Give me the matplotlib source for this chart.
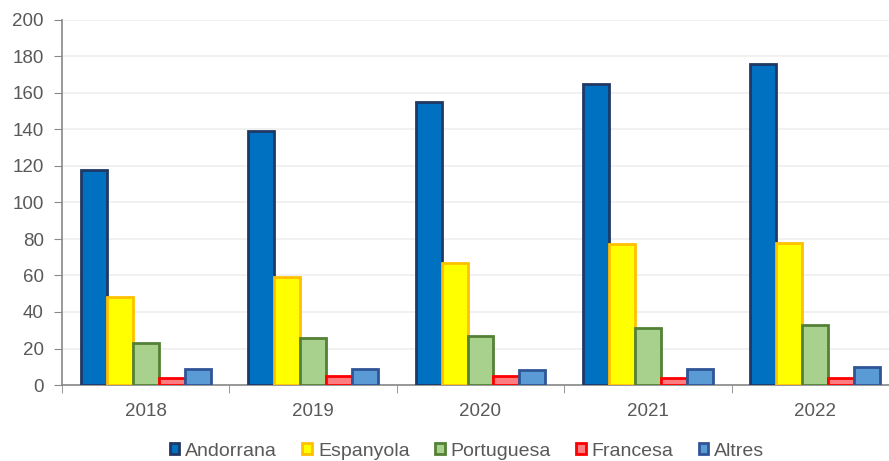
import numpy as np
import matplotlib.pyplot as plt
from matplotlib.patches import Patch

plt.rcParams['font.family'] = ['Liberation Sans', 'DejaVu Sans']

years = ['2018', '2019', '2020', '2021', '2022']
andorrana = [118, 139, 155, 165, 176]
espanyola = [48, 59, 67, 77, 78]
portuguesa = [23, 26, 27, 31, 33]
francesa = [4, 5, 5, 4, 4]
altres = [9, 9, 8, 9, 10]

series = [
    ('Andorrana', andorrana, '#0070C0', '#1F3864'),
    ('Espanyola', espanyola, '#FFFF00', '#FFC000'),
    ('Portuguesa', portuguesa, '#A9D18E', '#538135'),
    ('Francesa', francesa, '#FF7C80', '#FF0000'),
    ('Altres', altres, '#5B9BD5', '#2F5597'),
]

W, H = 889, 461
fig = plt.figure(figsize=(W / 100, H / 100), dpi=100)
ax = fig.add_axes([62 / W, 76 / H, 837 / W, 365 / H])

x = np.arange(len(years))
bw = 0.155
for i, (name, vals, fc, ec) in enumerate(series):
    off = (i - 2) * bw
    ax.bar(x + off, vals, bw, color=fc, edgecolor=ec, linewidth=2, zorder=3)

ax.set_xlim(-0.5, len(years) - 0.5)
ax.set_ylim(0, 200)
ax.set_yticks(range(0, 201, 20))
ax.yaxis.grid(True, color='#EFEFEF', linewidth=1.2, zorder=0)

ax.set_xticks(x)
ax.set_xticklabels(years)
ax.set_xticks(np.arange(-0.5, len(years)), minor=True)
ax.tick_params(axis='x', which='major', length=0, pad=13)
ax.tick_params(axis='x', which='minor', length=6, color='#888888')
ax.tick_params(axis='y', length=6, color='#888888', pad=7)
ax.tick_params(labelsize=13.5, labelcolor='#595959')

for s in ['top', 'right']:
    ax.spines[s].set_visible(False)
for s in ['left', 'bottom']:
    ax.spines[s].set_color('#888888')
    ax.spines[s].set_linewidth(1.2)

handles = [Patch(facecolor=fc, edgecolor=ec, linewidth=2, label=name)
           for name, vals, fc, ec in series]
fig.legend(handles=handles, loc='center', bbox_to_anchor=(467 / W, 1 - 451 / H),
           ncol=5, frameon=False, fontsize=14, handlelength=0.5, handleheight=0.5,
           handletextpad=0.3, columnspacing=1.3, labelcolor='#595959')

fig.savefig('out.png', dpi=100)
